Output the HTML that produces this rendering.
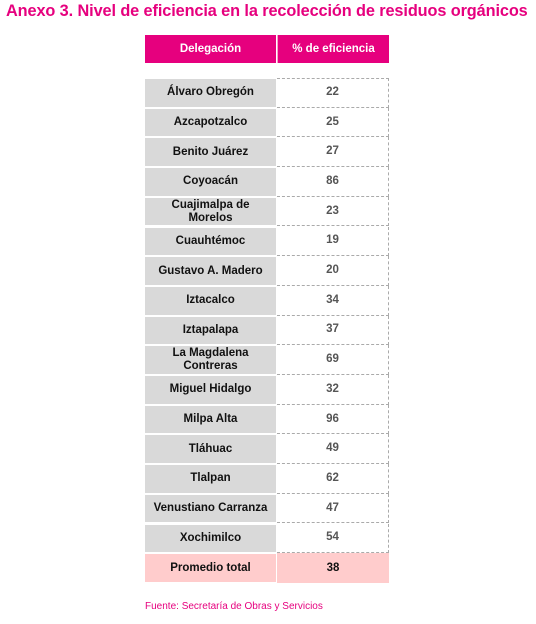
<!DOCTYPE html>
<html><head><meta charset="utf-8"><style>
body{margin:0;width:536px;height:624px;background:#fff;font-family:"Liberation Sans",Arial,sans-serif;position:relative;overflow:hidden}
#title{position:absolute;left:6px;top:2px;font-size:16.3px;font-weight:bold;color:#e6007e;white-space:nowrap;letter-spacing:-0.1px}
.c{position:absolute;display:flex;align-items:center;justify-content:center;text-align:center;font-weight:bold;font-size:11.5px;box-sizing:border-box;line-height:13px}
.h{background:#e6007e;color:#fff;top:35px;height:28px}
.l{background:#d9d9d9;color:#111;border-top:1px solid #fff;border-bottom:1px solid #fff}
.r{background:#fff;color:#555;border-bottom:1px dashed #aaa;border-right:1px dashed #aaa}
.p{background:#ffcccc;color:#111}
#src{position:absolute;left:145px;top:601px;font-size:10px;color:#e6007e}
</style></head><body>
<div id="title">Anexo 3. Nivel de eficiencia en la recolección de residuos orgánicos</div>
<div class="c h" style="left:145px;width:131px">Delegación</div>
<div class="c h" style="left:277px;width:112px;border-left:1px solid #f5a0c8">% de eficiencia</div>
<div id="tbl"></div>
<div id="src">Fuente: Secretaría de Obras y Servicios</div>
<script>
const delegaciones=["Álvaro Obregón","Azcapotzalco","Benito Juárez","Coyoacán","Cuajimalpa de<br>Morelos","Cuauhtémoc","Gustavo A. Madero","Iztacalco","Iztapalapa","La Magdalena<br>Contreras","Miguel Hidalgo","Milpa Alta","Tláhuac","Tlalpan","Venustiano Carranza","Xochimilco"];
const eficiencia=[22,25,27,86,23,19,20,34,37,69,32,96,49,62,47,54];
const promedio=38;
const tbl=document.getElementById('tbl');
const top0=78,rh=29.7;
function cell(cls,left,w,top,html){const d=document.createElement('div');d.className='c '+cls;d.style.left=left+'px';d.style.width=w+'px';d.style.top=top+'px';d.style.height=rh+'px';d.innerHTML=html;tbl.appendChild(d);return d;}
delegaciones.forEach((n,i)=>{
const t=top0+i*rh;
const a=cell('l',145,131,t,n);


const b=cell('r',277,112,t,eficiencia[i]);


if(i===0){b.style.borderTop='1px dashed #aaa';}
});
const tp=top0+delegaciones.length*rh;
const pa=cell('l p',145,131,tp,'Promedio total');


const pb=cell('p',277,112,tp,promedio);


pb.style.color='#111';
</script>
</body></html>
